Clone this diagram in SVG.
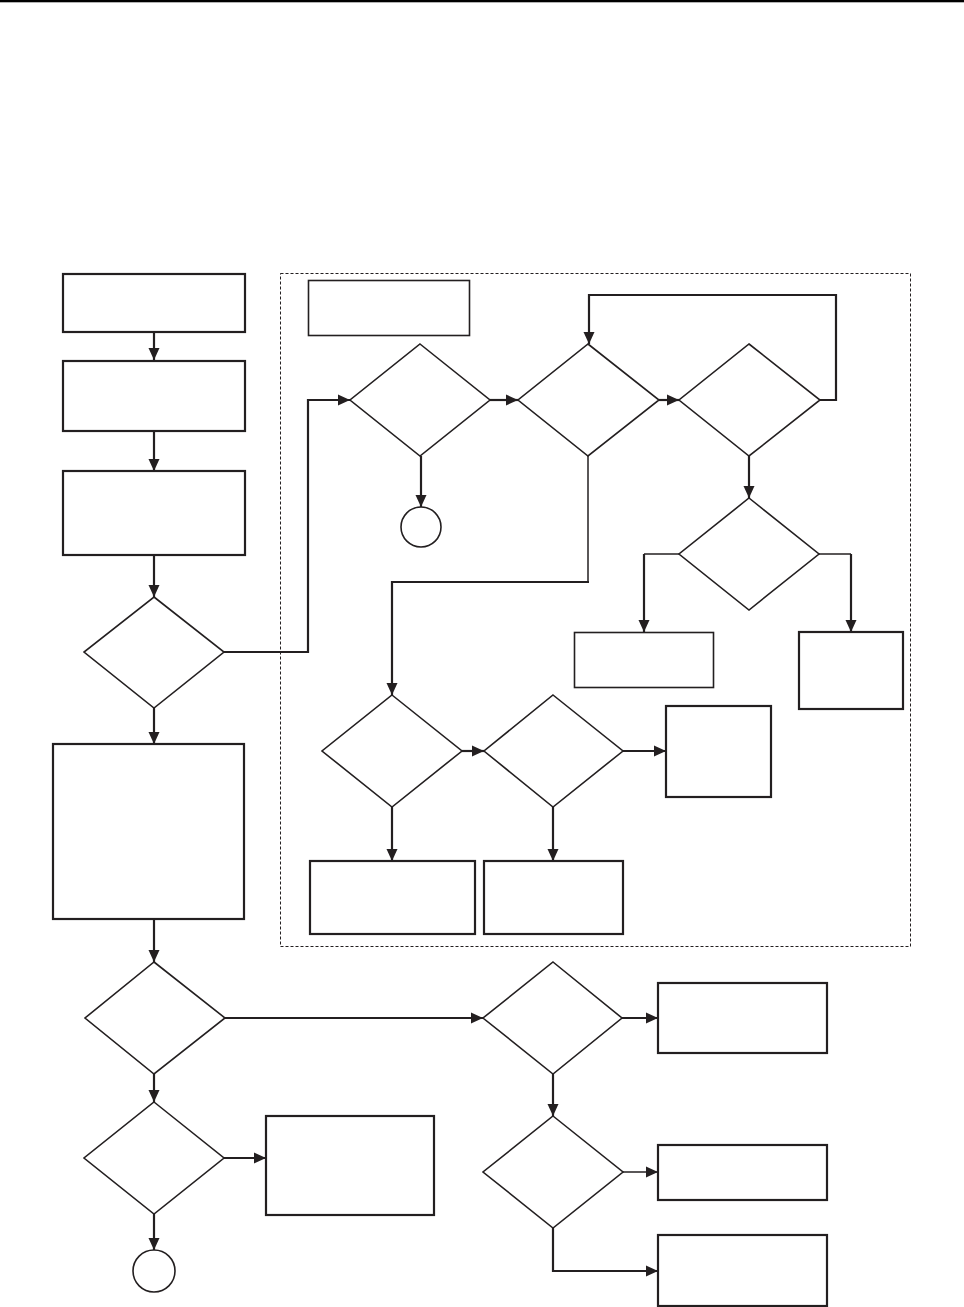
<svg xmlns="http://www.w3.org/2000/svg" width="964" height="1307" viewBox="0 0 964 1307">
<defs>
<marker id="ah" markerUnits="userSpaceOnUse" markerWidth="12" markerHeight="12" viewBox="0 0 12 12" refX="12" refY="6" orient="auto">
<path d="M0,0.5 L12,6 L0,11.5 Z" fill="#231f20"/>
</marker>
<style>
.box{fill:#fff;stroke:#231f20;stroke-width:2.2}
.thin{fill:#fff;stroke:#231f20;stroke-width:1.6}
.dia{fill:#fff;stroke:#231f20;stroke-width:1.6}
.c{fill:none;stroke:#231f20;stroke-width:2.2}
.ct{fill:none;stroke:#231f20;stroke-width:1.5}
.a{marker-end:url(#ah)}
</style>
</defs>
<rect width="964" height="1307" fill="#fff"/>
<rect x="0" y="0" width="964" height="2.3" fill="#000"/>
<rect id="region" x="280.5" y="273.5" width="630" height="673" fill="none" stroke="#231f20" stroke-width="1" stroke-dasharray="3,2"/>

<g id="connectors">
<path class="c a" d="M154,332 V360"/>
<path class="c a" d="M154,431 V471"/>
<path class="c a" d="M154,555 V597"/>
<path class="c a" d="M224,652 H308 V400 H350"/>
<path class="c a" d="M490,400 H518"/>
<path class="c a" d="M659,400 H679"/>
<path class="c a" d="M820,400 H836 V295 H589 V344"/>
<path class="c a" d="M421,456 V507"/>
<path class="ct" d="M588,456 V582"/>
<path class="c a" d="M589,582 H392 V695"/>
<path class="c a" d="M749,456 V498"/>
<path class="ct" d="M679,554 H644"/>
<path class="c a" d="M644,554 V632"/>
<path class="ct" d="M819,554 H851"/>
<path class="c a" d="M851,554 V632"/>
<path class="c a" d="M462,751 H484"/>
<path class="c a" d="M623,751 H666"/>
<path class="c a" d="M392,807 V861"/>
<path class="c a" d="M553,807 V861"/>
<path class="c a" d="M154,708 V744"/>
<path class="c a" d="M154,919 V962"/>
<path class="c a" d="M225,1018 H483"/>
<path class="c a" d="M154,1074 V1102"/>
<path class="c a" d="M224,1158 H266"/>
<path class="c a" d="M154,1214 V1250"/>
<path class="c a" d="M622,1018 H658"/>
<path class="c a" d="M553,1074 V1116"/>
<path class="ct a" d="M623,1172 H658"/>
<path class="c a" d="M553,1228 V1271 H658"/>
</g>

<g id="n1"><rect class="box" x="63" y="274" width="182" height="58"/></g>
<g id="n2"><rect class="box" x="63" y="361" width="182" height="70"/></g>
<g id="n3"><rect class="box" x="63" y="471" width="182" height="84"/></g>
<g id="d1"><polygon class="dia" points="154,597 224,652 154,708 84,652"/></g>
<g id="n4"><rect class="box" x="53" y="744" width="191" height="175"/></g>
<g id="dM"><polygon class="dia" points="154,962 225,1018 154,1074 85,1018"/></g>
<g id="dN"><polygon class="dia" points="154,1102 224,1158 154,1214 84,1158"/></g>
<g id="nO"><rect class="box" x="266" y="1116" width="168" height="99"/></g>
<g id="endL"><circle class="dia" cx="154" cy="1271" r="21"/></g>

<g id="nTitle"><rect class="thin" x="308.5" y="280.5" width="161" height="55"/></g>
<g id="dA"><polygon class="dia" points="420,344 490,400 420,456 350,400"/></g>
<g id="dB"><polygon class="dia" points="588,344 659,400 588,456 518,400"/></g>
<g id="dC"><polygon class="dia" points="749,344 820,400 749,456 679,400"/></g>
<g id="endA"><circle class="dia" cx="421" cy="527" r="20"/></g>
<g id="dE"><polygon class="dia" points="749,498 819,554 749,610 679,554"/></g>
<g id="nF"><rect class="thin" x="574.5" y="632.5" width="139" height="55"/></g>
<g id="nG"><rect class="box" x="799" y="632" width="104" height="77"/></g>
<g id="dD"><polygon class="dia" points="392,695 462,751 392,807 322,751"/></g>
<g id="dH"><polygon class="dia" points="553,695 623,751 553,807 484,751"/></g>
<g id="nI"><rect class="box" x="666" y="706" width="105" height="91"/></g>
<g id="nJ"><rect class="box" x="310" y="861" width="165" height="73"/></g>
<g id="nK"><rect class="box" x="484" y="861" width="139" height="73"/></g>

<g id="dR"><polygon class="dia" points="553,962 622,1018 553,1074 483,1018"/></g>
<g id="nP"><rect class="box" x="658" y="983" width="169" height="70"/></g>
<g id="dS"><polygon class="dia" points="553,1116 623,1172 553,1228 483,1172"/></g>
<g id="nQ"><rect class="box" x="658" y="1145" width="169" height="55"/></g>
<g id="nT"><rect class="box" x="658" y="1235" width="169" height="71"/></g>
</svg>
